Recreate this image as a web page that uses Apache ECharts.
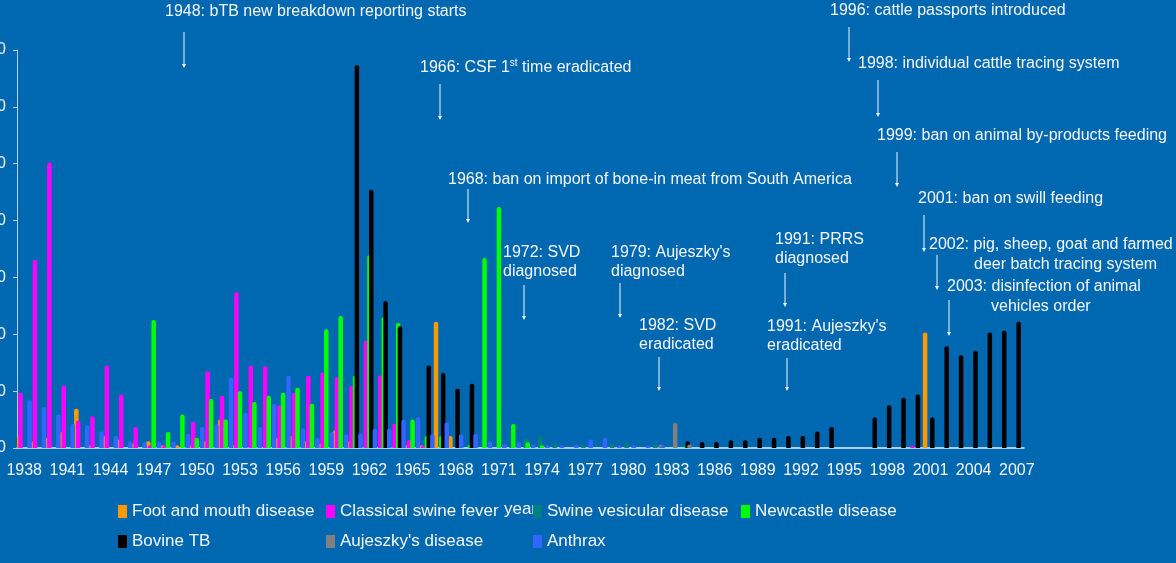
<!DOCTYPE html>
<html>
<head>
<meta charset="utf-8">
<script src="https://cdn.jsdelivr.net/npm/echarts@6/dist/echarts.min.js"></script>
<style>
html,body{margin:0;padding:0;background:#0067b1;}
#chart{width:1176px;height:563px;}
</style>
</head>
<body>
<div id="chart"></div>
<script>
// categories
var years = ['1938','1939','1940','1941','1942','1943','1944','1945','1946','1947',
	'1948','1949','1950','1951','1952','1953','1954','1955','1956','1957',
	'1958','1959','1960','1961','1962','1963','1964','1965','1966','1967',
	'1968','1969','1970','1971','1972','1973','1974','1975','1976','1977',
	'1978','1979','1980','1981','1982','1983','1984','1985','1986','1987',
	'1988','1989','1990','1991','1992','1993','1994','1995','1996','1997',
	'1998','1999','2000','2001','2002','2003','2004','2005','2006','2007'];

// series values, one per year
var footMouth = [2.1,1.2,1.8,2.8,6.9,0.5,2.1,1.5,0.8,1.2,
	0.5,0.5,0.5,1.2,5.0,0.5,0,0,1.8,2.1,
	1.2,0.8,3.1,1.2,0,0,0,0.5,0.5,22.2,
	2.1,0,0,0,0,0,0,0,0,0,
	0,0,0,0,0,0,0,0,0,0,
	0,0,0,0,0,0,0,0,0,0,
	0,0,0,20.3,0,0,0,0,0,0];
var swineFever = [9.7,33.1,50.2,11.0,4.8,5.6,14.5,9.4,3.7,0.5,
	0.5,0,4.6,13.5,9.2,27.4,14.5,14.4,7.5,9.7,
	12.7,13.3,12.5,10.9,18.9,12.8,4.3,1.4,0.5,0,
	0,0,0,0,0,0,0,0,0,0,
	0,0,0,0,0,0,0,0,0,0,
	0,0,0,0,0,0,0,0,0,0,
	0,0,0.4,0,0,0,0,0,0,0];
var swineVesicular = [0,0,0,0,0,0,0,0,0,0,
	0,0,0,0,0,0,0,0,0,0,
	0,0,0,0,0,0,0,0,0,0,
	0,0,0,0,0.3,1.6,2.2,0.8,0,0.6,
	0,0.8,0.8,0,0.6,0,0,0,0,0,
	0,0,0,0,0,0,0,0,0,0,
	0,0,0,0,0,0,0,0,0,0];
var newcastle = [0,0,0,0,0,0,0,0,0,22.5,
	2.8,5.9,1.8,8.6,5.0,10.0,8.1,9.2,9.7,10.6,
	7.8,20.9,23.2,12.7,33.9,23.0,22.0,5.0,2.1,2.1,
	0,0.6,33.4,42.4,4.2,1.0,0.5,0,0,0,
	0,0,0,0,0,0,0.3,0,0,0,
	0,0,0,0,0,0,0,0,0,0,
	0,0,0,0,0,0,0,0,0,0];
var bovineTB = [0,0,0,0,0,0,0,0,0,0,
	0,0,0,0,0,0,0,0,0,0,
	0,0,0,67.3,45.4,25.8,21.4,0,14.5,13.2,
	10.4,11.3,0,0,0,0,0,0,0,0,
	0,0,0,0,0,0,1.2,1.05,1.05,1.35,
	1.35,1.8,1.8,2.1,2.1,2.9,3.7,0,0,5.35,
	7.5,8.85,9.4,5.35,17.9,16.3,17.1,20.3,20.6,22.2];
var aujeszky = [0,0,0,0,0,0,0,0,0,0,
	0,0,0,0,0,0,0,0,0,0,
	0,0,0,0,0,0,0,0,0,0,
	0,0,0,0,0,0,0,0,0,0,
	0,0,0,0,0.6,4.4,0.6,0,0,0,
	0,0,0,0,0,0,0,0,0,0,
	0,0,0,0,0,0,0,0,0,0];
var anthrax = [8.4,7.2,5.9,4.2,4.0,2.9,2.1,1.2,1.0,1.2,
	1.2,2.5,3.7,4.2,12.4,6.2,3.7,7.8,12.7,3.5,
	1.8,2.8,2.4,2.6,3.4,3.4,5.0,5.4,2.4,4.5,
	2.4,2.5,1.2,0.7,1.0,0.6,0.5,0.5,0.6,1.5,
	1.8,0.5,0.5,0.5,0.5,0,0,0,0,0,
	0,0,0,0,0,0,0,0,0,0,
	0,0,0,0,0,0,0,0,0,0];

var seriesNames = ['Foot and mouth disease','Classical swine fever','Swine vesicular disease',
	'Newcastle disease','Bovine TB',"Aujeszky's disease",'Anthrax'];
var seriesData = [footMouth, swineFever, swineVesicular, newcastle, bovineTB, aujeszky, anthrax];
var colors = ['#ff9900','#ff00ff','#008080','#00ff00','#000000','#808080','#3366ff'];

// event notes
var noteTexts = ['1948: bTB new breakdown reporting starts',
	'1966: CSF 1{s|st} time eradicated',
	'1968: ban on import of bone-in meat from South America',
	'1972: SVD\ndiagnosed',
	"1979: Aujeszky's\ndiagnosed",
	'1982: SVD\neradicated',
	'1991: PRRS\ndiagnosed',
	"1991: Aujeszky's\neradicated",
	'1996: cattle passports introduced',
	'1998: individual cattle tracing system',
	'1999: ban on animal by-products feeding',
	'2001: ban on swill feeding',
	'2002: pig, sheep, goat and farmed',
	'deer batch tracing system',
	'2003: disinfection of animal',
	'vehicles order'];
// [text x, first line centre y, arrow x, arrow top, arrow bottom]
var noteLayout = [[165,12,184,32,68],[420,68,440,84,120],[448,180,468,189,223],
	[503,253,524,285,320],[611,253,620,283,318],[639,326,659,357,391],
	[775,240,785,273,307],[767,327,787,358,391],[830,11,849,27,62],
	[858,64,878,80,117],[877,136,897,152,187],[918,199,924,215,252],
	[929,245,937,255,290],[974,265],[947,287,949,300,336],[991,307]];

var font = 'Arial, "Liberation Sans", sans-serif';
var white = '#f4f7fb';

function getGraphics(){
	var g = [];
	for (var i = 0; i < noteTexts.length; i++){
		var l = noteLayout[i];
		g.push({
			type: 'text',
			style: {
				text: noteTexts[i], x: l[0], y: l[1] - 9.5,
				fill: white, fontSize: 16, fontFamily: font,
				lineHeight: 19, verticalAlign: 'top',
				rich: {s: {fontSize: 10, fontFamily: font, fill: white, verticalAlign: 'top', lineHeight: 19}}
			}
		});
		if (l.length > 2){
			g.push({type: 'line', shape: {x1: l[2], y1: l[3], x2: l[2], y2: l[4] - 2},
				style: {stroke: white, lineWidth: 1}});
			g.push({type: 'polygon', shape: {points: [[l[2]-2, l[4]-4],[l[2]+2, l[4]-4],[l[2], l[4]]]},
				style: {fill: white}});
		}
	}
	return g;
}

function getSeries(){
	var array = [];
	for (var i = 0; i < seriesData.length; i++){
		array.push({
			name: seriesNames[i],
			type: 'bar',
			data: seriesData[i],
			barWidth: 4.5,
			barGap: '-60%',
			itemStyle: {color: colors[i], borderRadius: [2,2,0,0]}
		});
	}
	return array;
}

// legend laid out as a 4 column table
var legendPos = [[118,503],[326,503],[533,503],[741,503],[118,533],[326,533],[533,533]];
function getLegends(){
	var a = [];
	for (var i = 0; i < seriesNames.length; i++){
		a.push({
			data: [seriesNames[i]],
			left: legendPos[i][0], top: legendPos[i][1],
			icon: 'rect', itemWidth: 9, itemHeight: 13,
			padding: 0, selectedMode: false,
			textStyle: {color: white, fontSize: 17, fontFamily: font}
		});
	}
	return a;
}

var option = {
	backgroundColor: '#0067b1',
	animation: false,
	grid: {left: 17, right: 152, top: 50, bottom: 115, outerBoundsMode: 'none'},
	legend: getLegends(),
	xAxis: {
		type: 'category',
		data: years,
		name: 'year',
		nameLocation: 'middle',
		nameGap: 53,
		nameTextStyle: {color: white, fontSize: 17, fontFamily: font},
		axisLine: {lineStyle: {color: '#e6eef6', width: 1.5}},
		axisTick: {interval: 0, length: 5, lineStyle: {color: '#d6e2ee'}},
		axisLabel: {interval: 2, color: white, fontSize: 16, fontFamily: font, margin: 15}
	},
	yAxis: {
		type: 'value',
		min: 0, max: 70, interval: 10,
		splitLine: {show: false},
		axisLine: {show: true, lineStyle: {color: '#b9cfe4'}},
		axisTick: {show: true, length: 4, lineStyle: {color: '#b9cfe4'}},
		axisLabel: {color: white, fontSize: 16, fontFamily: font, margin: 11}
	},
	graphic: getGraphics(),
	series: getSeries()
};

var myChart = echarts.init(document.getElementById('chart'));
myChart.setOption(option);
</script>
</body>
</html>
